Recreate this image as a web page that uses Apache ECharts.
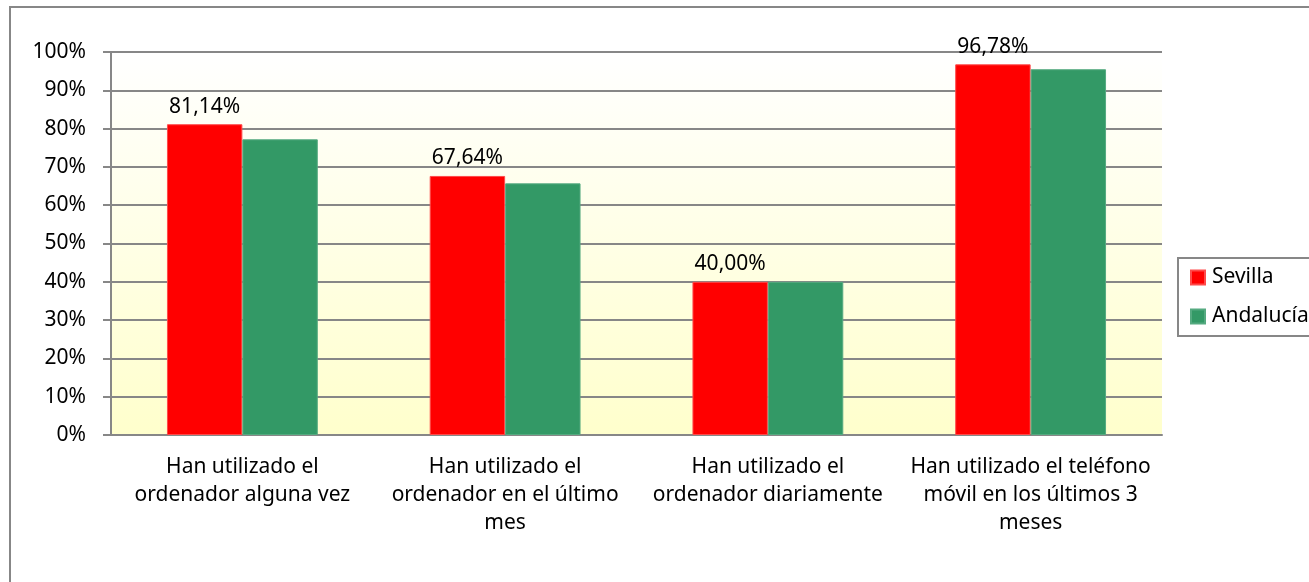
<!DOCTYPE html>
<html>
<head>
<meta charset="utf-8">
<script src="https://cdn.jsdelivr.net/npm/echarts@6/dist/echarts.min.js"></script>
<style>
  html, body { margin: 0; padding: 0; background: #fff; }
  #myChart { width: 1309px; height: 582px; }
</style>
</head>
<body>
<div id="myChart"></div>
<script>
// categorías del eje X
var categorias = [
  "Han utilizado el\nordenador alguna vez",
  "Han utilizado el\nordenador en el último\nmes",
  "Han utilizado el\nordenador diariamente",
  "Han utilizado el teléfono\nmóvil en los últimos 3\nmeses"
];
// valores (%)
var sevilla = [81.14, 67.64, 40.00, 96.78];
var andalucia = [77.2, 65.7, 40.0, 95.5];
var nombres = ["Sevilla", "Andalucía"];

var fuente = "Noto Sans";
var gris = "#878787";
var tam = 21;

var myChart = echarts.init(document.getElementById("myChart"));
myChart.setOption({
  animation: false,
  textStyle: { fontFamily: fuente },
  graphic: [
    {
      type: "rect",
      shape: { x: 10, y: 7, width: 1400, height: 700 },
      style: { fill: "none", stroke: gris, lineWidth: 2 },
      silent: true
    }
  ],
  legend: {
    orient: "vertical",
    left: 1178,
    top: 258,
    data: nombres,
    icon: "rect",
    itemWidth: 14,
    itemHeight: 14,
    itemGap: 18,
    padding: [9, 10, 9, 12],
    borderColor: gris,
    borderWidth: 2,
    textStyle: { fontSize: tam, color: "#000", fontFamily: fuente, padding: [0, 0, 0, 2] }
  },
  grid: {
    left: 111,
    top: 52,
    right: 147,
    bottom: 147,
    show: true,
    borderWidth: 0,
    backgroundColor: new echarts.graphic.LinearGradient(0, 0, 0, 1, [
      { offset: 0, color: "#FFFFFF" },
      { offset: 1, color: "#FFFFCC" }
    ])
  },
  xAxis: {
    type: "category",
    data: categorias,
    axisLine: { lineStyle: { color: gris, width: 2 } },
    axisTick: { length: 6, lineStyle: { color: gris, width: 2 } },
    axisLabel: {
      color: "#000",
      fontSize: tam,
      lineHeight: 28,
      margin: 18,
      interval: 0,
      fontFamily: fuente
    }
  },
  yAxis: {
    type: "value",
    min: 0,
    max: 100,
    interval: 10,
    axisLine: { show: true, lineStyle: { color: gris, width: 2 } },
    axisTick: { show: true, length: 8, lineStyle: { color: gris, width: 2 } },
    splitLine: { lineStyle: { color: gris, width: 2 } },
    axisLabel: {
      color: "#000",
      fontSize: tam,
      margin: 25,
      fontFamily: fuente,
      formatter: "{value}%"
    }
  },
  series: [
    {
      name: nombres[0],
      type: "bar",
      data: sevilla,
      barGap: 0,
      barCategoryGap: "42.6%",
      itemStyle: { color: "#FF0000", borderColor: "#FF4A4A", borderWidth: 1 },
      label: {
        show: true,
        position: "top",
        distance: 7,
        color: "#000",
        fontSize: tam,
        fontFamily: fuente,
        formatter: function (p) {
          return p.value.toFixed(2).replace(".", ",") + "%";
        }
      }
    },
    {
      name: nombres[1],
      type: "bar",
      data: andalucia,
      barGap: 0,
      barCategoryGap: "42.6%",
      itemStyle: { color: "#339966", borderColor: "#55AA80", borderWidth: 1 }
    }
  ]
});
</script>
</body>
</html>
